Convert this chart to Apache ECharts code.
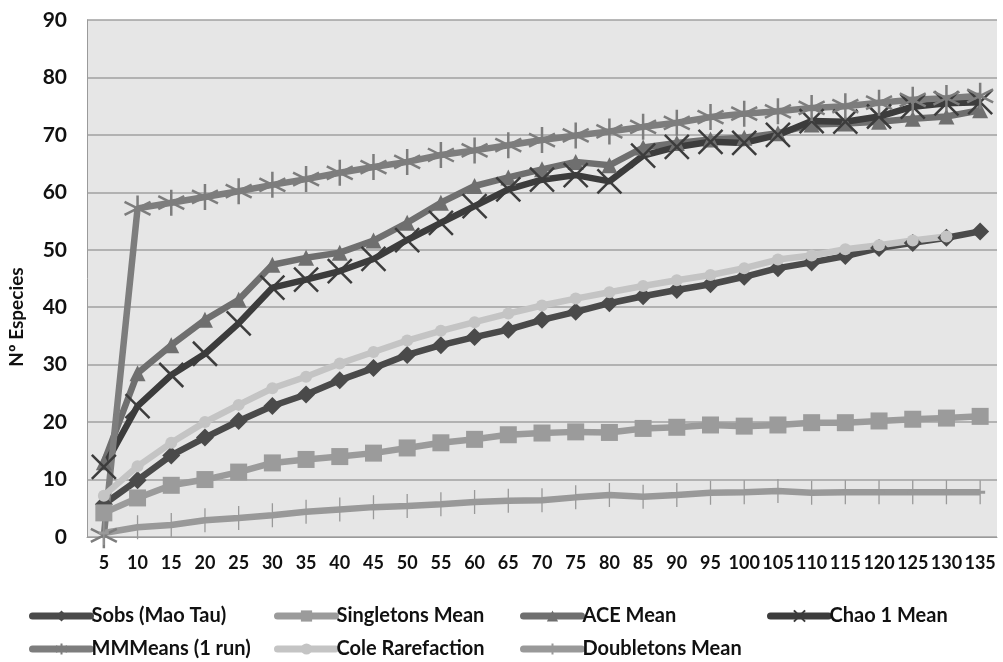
<!DOCTYPE html>
<html><head><meta charset="utf-8">
<script src="https://cdn.jsdelivr.net/npm/echarts@6/dist/echarts.min.js"></script>
<style>html,body{margin:0;padding:0;background:#fff}#c{width:1003px;height:662px}</style>
</head><body><div id="c"></div>
<script>
const categories = ['5','10','15','20','25','30','35','40','45','50','55','60','65','70','75','80','85','90','95','100','105','110','115','120','125','130','135'];
const yTicks = [0,10,20,30,40,50,60,70,80,90];
const sobs = [5.7,9.9,14.2,17.3,20.2,22.8,24.8,27.3,29.4,31.7,33.4,34.8,36.1,37.8,39.2,40.7,41.9,43.0,44.0,45.3,46.8,47.8,48.9,50.3,51.2,52.1,53.2];
const singletons = [4.2,6.8,9.0,10.0,11.3,12.9,13.5,14.0,14.6,15.5,16.4,17.0,17.8,18.1,18.3,18.2,18.9,19.1,19.5,19.3,19.5,19.9,19.9,20.2,20.5,20.7,21.0];
const ace = [13.0,28.5,33.4,37.8,41.3,47.4,48.6,49.5,51.6,54.7,58.2,61.1,62.6,64.0,65.3,64.7,67.8,68.6,69.2,69.5,70.3,71.8,72.0,72.3,72.8,73.2,74.3];
const chao = [12.2,22.8,28.2,31.9,37.2,43.4,44.8,46.3,48.4,51.7,54.7,57.6,60.5,62.2,63.0,61.9,66.4,67.9,68.8,68.6,70.0,72.4,72.3,73.2,74.9,75.5,75.7];
const mmmeans = [0.3,57.2,58.2,59.2,60.2,61.3,62.3,63.4,64.4,65.3,66.5,67.3,68.2,69.1,69.9,70.6,71.4,72.1,73.1,73.7,74.1,74.7,75.0,75.6,76.1,76.4,76.8];
const cole = [7.2,12.3,16.4,20.0,23.0,25.9,27.9,30.2,32.2,34.2,35.9,37.4,38.9,40.3,41.5,42.6,43.7,44.7,45.6,46.8,48.3,49.0,50.1,50.8,51.6,52.3,null];
const doubletons = [0.7,1.7,2.1,2.9,3.3,3.8,4.4,4.8,5.2,5.4,5.7,6.1,6.3,6.4,6.9,7.3,7.0,7.3,7.7,7.8,8.0,7.7,7.8,7.8,7.8,7.8,7.8];

const F = 'Lato';
const chart = echarts.init(document.getElementById('c'));
function line(name, data, color, symbol, size, extra) {
  return Object.assign({
    name, type: 'line', data, symbol, symbolSize: size,
    showAllSymbol: true, connectNulls: false, animation: false,
    lineStyle: {color, width: 6.5},
    itemStyle: {color, borderColor: color, borderWidth: 0},
    emphasis: {disabled: true}
  }, extra || {});
}
const xPath = 'path://M0,0L10,10M10,0L0,10';
const astPath = 'path://M5,0L5,10M0,2.5L10,7.5M0,7.5L10,2.5';
const plusPath = 'path://M5,0L5,10M0,5L10,5';
const legendText = {fontFamily: F, fontWeight: 'bold', fontSize: 20, color: '#111', padding: [0, 0, 0, -4]};
const legendBase = {orient: 'vertical', top: 606, itemWidth: 58, itemHeight: 14, itemGap: 13, textStyle: legendText, padding: 0,
  lineStyle: {width: 7, cap: 'round'}};
chart.setOption({
  backgroundColor: '#fff',
  animation: false,
  grid: {left: 87, right: 6, top: 20, bottom: 125, show: true, backgroundColor: '#e6e6e6', borderWidth: 0},
  graphic: [{
    type: 'text', x: 17, y: 317, rotation: Math.PI / 2,
    style: {text: 'Nº Especies', fontFamily: F, fontWeight: 'bold', fontSize: 19, fill: '#111', align: 'center', verticalAlign: 'middle'}
  }],
  xAxis: {
    type: 'category', data: categories, boundaryGap: true,
    axisLine: {show: true, lineStyle: {color: '#9a9a9a', width: 1}},
    axisTick: {show: false},
    axisLabel: {fontFamily: F, fontWeight: 'bold', fontSize: 18, color: '#111', margin: 17, interval: 0}
  },
  yAxis: {
    type: 'value', min: 0, max: 90, interval: 10,
    axisLine: {show: true, lineStyle: {color: '#9a9a9a', width: 1}},
    axisTick: {show: false},
    axisLabel: {fontFamily: F, fontWeight: 'bold', fontSize: 21, color: '#111', margin: 20,
      formatter: v => yTicks.includes(v) ? String(v) : ''},
    splitLine: {show: true, lineStyle: {color: '#a0a0a0', width: 1.5}}
  },
  legend: [
    Object.assign({left: 29, data: ['Sobs (Mao Tau)', 'MMMeans (1 run)']}, legendBase),
    Object.assign({left: 274, data: ['Singletons Mean', 'Cole Rarefaction']}, legendBase),
    Object.assign({left: 520, data: ['ACE Mean', 'Doubletons Mean']}, legendBase),
    Object.assign({left: 767, data: ['Chao 1 Mean']}, legendBase)
  ],
  series: [
    line('Sobs (Mao Tau)', sobs, '#4a4a4a', 'diamond', 18),
    line('Singletons Mean', singletons, '#9b9b9b', 'rect', 17),
    line('ACE Mean', ace, '#6f6f6f', 'triangle', 16),
    line('Chao 1 Mean', chao, '#3c3c3c', xPath, 24, {itemStyle: {color: 'none', borderColor: '#3c3c3c', borderWidth: 2.5}}),
    line('MMMeans (1 run)', mmmeans, '#7d7d7d', astPath, 26, {itemStyle: {color: 'none', borderColor: '#7d7d7d', borderWidth: 2.5}}),
    line('Cole Rarefaction', cole, '#c4c4c4', 'circle', 12),
    line('Doubletons Mean', doubletons, '#999999', plusPath, [10, 24], {itemStyle: {color: 'none', borderColor: '#999999', borderWidth: 2}})
  ]
});
</script></body></html>
